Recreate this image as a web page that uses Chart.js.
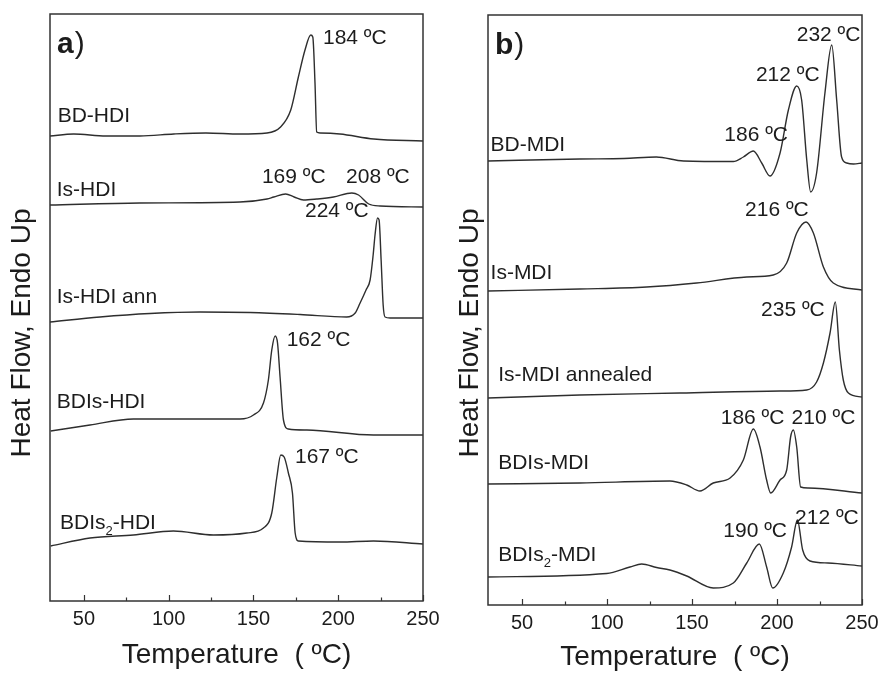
<!DOCTYPE html>
<html lang="en">
<head>
<meta charset="UTF-8">
<title>DSC curves - HDI and MDI polyurethanes</title>
<script src="https://cdn.jsdelivr.net/npm/chart.js"></script>
<style>
  body { margin: 0; background: #fff; }
  .wrap { position: relative; width: 881px; height: 675px; }
  canvas { position: absolute; top: 0; }
  #chartA { left: 0; }
  #chartB { left: 440px; }
</style>
</head>
<body>
<div class="wrap">
  <canvas id="chartA" width="440" height="675"></canvas>
  <canvas id="chartB" width="441" height="675"></canvas>
</div>
<script>
// temperature axis
const xTicks = [50, 100, 150, 200, 250];
const xMinorTicks = [75, 125, 175, 225];

// panel a) HDI series: temperature (ºC) and heat flow (arbitrary, stacked)
const bdHdiT = [30, 44, 63, 83, 103, 122, 142, 158, 166, 172, 176.5, 180.4, 183.8, 185, 186.3, 187.3, 189.3, 201, 221, 250];
const bdHdiQ = [465, 467, 465, 465, 467, 468, 467, 468, 474, 491, 524, 551, 566, 564, 518, 469, 468, 467, 462, 460];

const isHdiT = [30, 83, 142, 158, 162, 169, 174, 179.5, 187.4, 197.2, 208, 212, 218, 224.7, 250];
const isHdiQ = [396, 398, 399, 402, 404, 407, 404, 401, 402, 404, 408, 406, 397, 395, 394];

const isHdiAnnT = [30, 59.5, 89, 118.5, 148, 177.5, 205, 210, 212.9, 216.4, 218.8, 220.6, 221.7, 223.2, 224.1, 225.3, 226.5, 227.6, 230.6, 250];
const isHdiAnnQ = [279, 284, 287.5, 289, 288.5, 286.5, 284, 288, 298, 311, 321, 346, 366, 383, 381, 341, 296, 284, 283, 283];

const bdisHdiT = [30.4, 53.6, 79.2, 130.3, 142.1, 150, 155.9, 158.8, 160.8, 162.8, 164.2, 165.7, 167.7, 170.6, 181.5, 220.8, 250];
const bdisHdiQ = [170, 176, 182, 182, 182, 186, 198, 221, 251, 265, 258, 224, 181, 172, 171, 166, 166];

const bdis2HdiT = [30.4, 53.6, 79.2, 102.8, 126.4, 146.1, 155.9, 160.8, 163.8, 166.1, 168.1, 170.6, 173, 174.6, 176.5, 201.1, 220.8, 250];
const bdis2HdiQ = [55, 63, 66, 70, 66, 68, 73, 88, 124, 146, 144, 128, 108, 68, 60, 59, 60, 57];

// panel b) MDI series
const bdMdiT = [30, 84, 110, 129, 145, 174.3, 180.2, 186.1, 191, 195.9, 201.8, 206.7, 211.6, 214.5, 217.5, 219.8, 223.3, 228.2, 232.2, 235.1, 238, 241, 245, 250];
const bdMdiQ = [444, 446, 446.5, 448, 444, 443.5, 448, 454, 442, 429, 452, 495, 519, 505, 445, 413, 432, 512, 560, 505, 448, 442, 441, 442];

const isMdiT = [30, 84, 123.3, 152.7, 182.2, 197.8, 205.7, 211.6, 217.1, 221.4, 227.3, 233.1, 250];
const isMdiQ = [314, 316, 318, 322, 328, 330, 342, 372, 383, 372, 338, 322, 315];

const isMdiAnnT = [30, 84, 142.9, 201.8, 217.5, 223.3, 227.3, 231.2, 234.3, 236.7, 239, 242, 250];
const isMdiAnnQ = [207, 210, 212, 214, 215, 223, 242, 272, 303, 255, 225, 212, 208];

const bdisMdiT = [30, 84, 137, 146.9, 154.7, 162.5, 172.4, 180.2, 186.1, 190, 193.9, 196.3, 201.8, 205.7, 208, 209.6, 211.6, 213.9, 218.4, 250];
const bdisMdiQ = [121, 122, 124, 120, 114, 122, 127, 145, 176, 158, 125, 112, 125, 135, 168, 175, 158, 118, 117, 112];

const bdis2MdiT = [30, 99.8, 113.5, 120.4, 129.2, 137, 146.9, 162.5, 174.3, 182.2, 189.6, 193.9, 197.5, 203.7, 208.6, 212, 215.1, 219.4, 230, 250];
const bdis2MdiQ = [28, 31.5, 38, 41, 37.5, 35, 29, 17, 22, 42, 61, 38, 17, 32, 58, 85, 55, 44, 42, 39];

// sample names and peak temperatures, placed in data units
const labelsA = [
  { text: '184 ºC', t: 191, q: 563 },
  { text: 'BD-HDI', t: 34.5, q: 485 },
  { text: 'Is-HDI', t: 34, q: 411 },
  { text: '169 ºC', t: 155, q: 424 },
  { text: '208 ºC', t: 204.6, q: 424 },
  { text: '224 ºC', t: 180.4, q: 390 },
  { text: 'Is-HDI ann', t: 34, q: 304 },
  { text: '162 ºC', t: 169.6, q: 261 },
  { text: 'BDIs-HDI', t: 34, q: 199 },
  { text: '167 ºC', t: 174.5, q: 144 },
  { text: 'BDIs₂-HDI', t: 35.9, q: 78 }
];
const labelsB = [
  { text: '232 ºC', t: 211.6, q: 570 },
  { text: '212 ºC', t: 187.6, q: 530 },
  { text: '186 ºC', t: 169, q: 470 },
  { text: 'BD-MDI', t: 31.5, q: 460 },
  { text: '216 ºC', t: 181.2, q: 395 },
  { text: 'Is-MDI', t: 31.5, q: 332 },
  { text: '235 ºC', t: 190.6, q: 295 },
  { text: 'Is-MDI annealed', t: 36, q: 230 },
  { text: '186 ºC', t: 166.9, q: 187 },
  { text: '210 ºC', t: 208.6, q: 187 },
  { text: 'BDIs-MDI', t: 36, q: 142 },
  { text: '190 ºC', t: 168.4, q: 74 },
  { text: '212 ºC', t: 210.6, q: 87 },
  { text: 'BDIs₂-MDI', t: 36, q: 50 }
];

const FONT = '"Liberation Sans", Arial, sans-serif';
const INK = '#1c1c1c';
const LINE = '#2e2e2e';

function series(ts, qs) {
  return {
    data: ts.map((t, i) => ({ x: t, y: qs[i] })),
    borderColor: LINE,
    borderWidth: 1.4,
    pointRadius: 0,
    fill: false,
    cubicInterpolationMode: 'monotone'
  };
}

// text with a "₂" drawn as a real subscript
function drawRich(ctx, text, x, y, size) {
  const parts = text.split('₂');
  let cx = x;
  parts.forEach((p, i) => {
    ctx.font = size + 'px ' + FONT;
    ctx.fillText(p, cx, y);
    cx += ctx.measureText(p).width;
    if (i < parts.length - 1) {
      ctx.font = Math.round(size * 0.62) + 'px ' + FONT;
      ctx.fillText('2', cx, y + size * 0.42);
      cx += ctx.measureText('2').width;
    }
  });
}

function makeDecor(labels, tag, yTitleX) {
  return {
    id: 'dscDecor',
    afterDraw(chart) {
      const { ctx, chartArea: a, scales: { x, y } } = chart;
      ctx.save();
      // frame
      ctx.strokeStyle = '#333';
      ctx.lineWidth = 1.5;
      ctx.strokeRect(a.left, a.top, a.right - a.left, a.bottom - a.top);
      // inward ticks on the temperature axis
      ctx.lineWidth = 1.2;
      ctx.beginPath();
      xTicks.forEach(v => {
        const px = Math.round(x.getPixelForValue(v)) + 0.5;
        ctx.moveTo(px, a.bottom); ctx.lineTo(px, a.bottom - 6);
      });
      xMinorTicks.forEach(v => {
        const px = Math.round(x.getPixelForValue(v)) + 0.5;
        ctx.moveTo(px, a.bottom); ctx.lineTo(px, a.bottom - 3.5);
      });
      ctx.stroke();

      ctx.fillStyle = INK;
      ctx.textAlign = 'left';
      ctx.textBaseline = 'middle';
      labels.forEach(l => {
        drawRich(ctx, l.text, x.getPixelForValue(l.t), y.getPixelForValue(l.q), 21);
      });

      // panel tag, bold letter + regular bracket
      const tx = a.left + 7, ty = a.top + 31;
      ctx.font = 'bold 30px ' + FONT;
      ctx.fillText(tag, tx, ty);
      const w = ctx.measureText(tag).width;
      ctx.font = '30px ' + FONT;
      ctx.fillText(')', tx + w + 1, ty);

      // y title
      ctx.translate(yTitleX, 333);
      ctx.rotate(-Math.PI / 2);
      ctx.textAlign = 'center';
      ctx.font = '28px ' + FONT;
      ctx.fillText('Heat Flow, Endo Up', 0, 0);
      ctx.restore();
    }
  };
}

function makeChart(id, datasets, yMax, pad, axisH, titlePad, labels, tag, yTitleX) {
  return new Chart(document.getElementById(id), {
    type: 'line',
    data: { datasets },
    options: {
      responsive: false,
      animation: false,
      devicePixelRatio: 1,
      layout: { padding: pad },
      plugins: { legend: { display: false }, tooltip: { enabled: false } },
      scales: {
        x: {
          type: 'linear',
          min: 30,
          max: 250,
          afterBuildTicks: s => { s.ticks = xTicks.map(v => ({ value: v })); },
          afterFit: s => { s.height = axisH; s.paddingLeft = 0; s.paddingRight = 0; },
          grid: { display: false, drawTicks: false },
          border: { display: false },
          ticks: {
            padding: 6,
            color: INK,
            maxRotation: 0,
            autoSkip: false,
            font: { family: FONT, size: 20 }
          },
          title: {
            display: true,
            text: 'Temperature  ( ºC)',
            color: INK,
            padding: { top: 0, bottom: titlePad },
            font: { family: FONT, size: 28 }
          }
        },
        y: { display: false, min: 0, max: yMax }
      }
    },
    plugins: [makeDecor(labels, tag, yTitleX)]
  });
}

makeChart('chartA', [
  series(bdHdiT, bdHdiQ),
  series(isHdiT, isHdiQ),
  series(isHdiAnnT, isHdiAnnQ),
  series(bdisHdiT, bdisHdiQ),
  series(bdis2HdiT, bdis2HdiQ)
], 587, { left: 50, right: 17, top: 14, bottom: 0 }, 74, 3, labelsA, 'a', 22);

makeChart('chartB', [
  series(bdMdiT, bdMdiQ),
  series(isMdiT, isMdiQ),
  series(isMdiAnnT, isMdiAnnQ),
  series(bdisMdiT, bdisMdiQ),
  series(bdis2MdiT, bdis2MdiQ)
], 590, { left: 48, right: 19, top: 15, bottom: 0 }, 70, 1, labelsB, 'b', 30);
</script>
</body>
</html>
